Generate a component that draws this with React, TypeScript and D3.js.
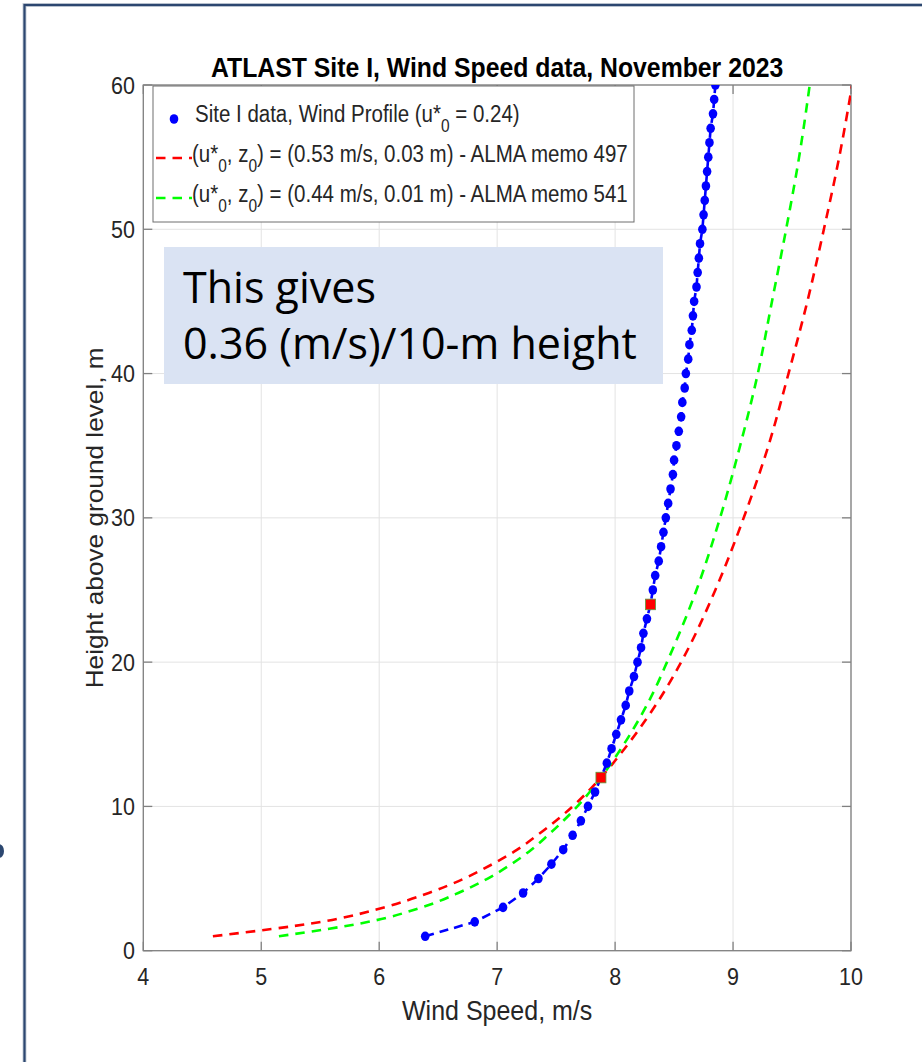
import React from 'react';
import * as d3 from 'd3';

// ---- data ----
const siteHeights = [1, 2, 3, 4, 5, 6, 7, 8, 9, 10, 11, 12, 13, 14, 15, 16, 17, 18, 19, 20,
  21, 22, 23, 24, 25, 26, 27, 28, 29, 30, 31, 32, 33, 34, 35, 36, 37, 38, 39, 40,
  41, 42, 43, 44, 45, 46, 47, 48, 49, 50, 51, 52, 53, 54, 55, 56, 57, 58, 59, 60];
const siteSpeeds = [6.39, 6.81, 7.05, 7.22, 7.35, 7.46, 7.56, 7.64, 7.71, 7.77, 7.83, 7.88, 7.93, 7.97, 8.01, 8.05, 8.09, 8.12, 8.16, 8.19,
  8.22, 8.24, 8.27, 8.30, 8.32, 8.34, 8.37, 8.39, 8.41, 8.43, 8.45, 8.47, 8.49, 8.50, 8.52, 8.54, 8.56, 8.57, 8.59, 8.60,
  8.62, 8.63, 8.65, 8.66, 8.67, 8.69, 8.70, 8.71, 8.72, 8.74, 8.75, 8.76, 8.77, 8.78, 8.79, 8.80, 8.81, 8.83, 8.84, 8.85];

const modelHeights = [1, 2, 3, 4, 5, 6, 7, 8, 10, 12, 14, 16, 18, 20, 25, 30, 35, 40, 45, 50, 55, 60];
const memo497Speeds = [4.59, 5.51, 6.04, 6.42, 6.72, 6.96, 7.17, 7.34, 7.64, 7.88, 8.08, 8.26, 8.42, 8.56, 8.85, 9.09, 9.30, 9.47, 9.63, 9.77, 9.90, 10.01];
const memo541Speeds = [5.15, 5.91, 6.36, 6.67, 6.92, 7.12, 7.29, 7.43, 7.68, 7.88, 8.05, 8.20, 8.33, 8.44, 8.69, 8.89, 9.06, 9.21, 9.33, 9.45, 9.56, 9.65];

const markHeights = [12, 24];
const markSpeeds = [7.88, 8.30];

const xTicks = [4, 5, 6, 7, 8, 9, 10];
const yTicks = [0, 10, 20, 30, 40, 50, 60];

const titleText = 'ATLAST Site I, Wind Speed data, November 2023';
const xLabel = 'Wind Speed, m/s';
const yLabel = 'Height above ground level, m';
const noteLines = ['This gives', '0.36 (m/s)/10-m height'];

// ---- layout ----
const W = 922, H = 1062;
const L = 143.3, R = 851, T = 85, B = 950.7;
const SY = 1.14;
const FONT = '"Liberation Sans", Arial, Helvetica, sans-serif';
const TXT = '#262626';
const AX = '#808080';

const x = d3.scaleLinear().domain([4, 10]).range([L, R]);
const y = d3.scaleLinear().domain([0, 60]).range([B, T]);

function ST(props: any) {
  const { x: tx, y: ty, children, rot, ...rest } = props;
  const tr = rot
    ? `translate(${tx},${ty}) rotate(-90) scale(${SY},1)`
    : `translate(${tx},${ty}) scale(1,${SY})`;
  return <text transform={tr} fontFamily={FONT} {...rest}>{children}</text>;
}

export default function App() {
  const sitePts = siteHeights.map((h, i) => [siteSpeeds[i], h] as [number, number]);
  const p497 = modelHeights.map((h, i) => [memo497Speeds[i], h] as [number, number]);
  const p541 = modelHeights.map((h, i) => [memo541Speeds[i], h] as [number, number]);
  const lineStraight = d3.line<[number, number]>().x(d => x(d[0])).y(d => y(d[1]));
  const lineSmooth = d3.line<[number, number]>().x(d => x(d[0])).y(d => y(d[1])).curve(d3.curveMonotoneY);
  const tickLen = 9;

  const legRowY = [119, 158, 198];
  const legBase = [122, 162, 202];
  const LF = 20.5, SF = 15.5, SD = 9;

  return (
    <svg width={W} height={H} style={{ position: 'absolute', left: 0, top: 0, background: '#fff' }}>
      <defs>
        <clipPath id="plotclip">
          <rect x={L} y={T} width={R - L} height={B - T} />
        </clipPath>
      </defs>
      {/* slide frame */}
      <rect x={24.5} y={5} width={W + 20} height={H + 20} fill="none" stroke="#c8cfd9" strokeWidth={4} />
      <rect x={24.5} y={5} width={W + 20} height={H + 20} fill="none" stroke="#2c4770" strokeWidth={2.2} />
      <ellipse cx={-1} cy={851} rx={5} ry={7} fill="#2c4770" />

      {/* grid */}
      {xTicks.map(t => (
        <line key={'gx' + t} x1={x(t)} x2={x(t)} y1={T} y2={B} stroke="#e3e3e3" strokeWidth={1} />
      ))}
      {yTicks.map(t => (
        <line key={'gy' + t} x1={L} x2={R} y1={y(t)} y2={y(t)} stroke="#e3e3e3" strokeWidth={1} />
      ))}

      {/* axes box */}
      <rect x={L} y={T} width={R - L} height={B - T} fill="none" stroke={AX} strokeWidth={1.3} />
      {xTicks.map(t => (
        <g key={'tx' + t}>
          <line x1={x(t)} x2={x(t)} y1={B} y2={B - tickLen} stroke={AX} strokeWidth={1.3} />
          <line x1={x(t)} x2={x(t)} y1={T} y2={T + tickLen} stroke={AX} strokeWidth={1.3} />
        </g>
      ))}
      {yTicks.map(t => (
        <g key={'ty' + t}>
          <line x1={L} x2={L + tickLen} y1={y(t)} y2={y(t)} stroke={AX} strokeWidth={1.3} />
          <line x1={R} x2={R - tickLen} y1={y(t)} y2={y(t)} stroke={AX} strokeWidth={1.3} />
        </g>
      ))}

      {/* tick labels */}
      {xTicks.map(t => (
        <ST key={'lx' + t} x={x(t)} y={985} fontSize={21.5} fill={TXT} textAnchor="middle">{t}</ST>
      ))}
      {yTicks.map(t => (
        <ST key={'ly' + t} x={135} y={y(t) + 8.5} fontSize={21.5} fill={TXT} textAnchor="end">{t}</ST>
      ))}

      {/* axis labels and title */}
      <ST x={(L + R) / 2} y={1020} fontSize={25} fill={TXT} textAnchor="middle">{xLabel}</ST>
      <ST x={103} y={(T + B) / 2} rot={true} fontSize={23} fill={TXT} textAnchor="middle">{yLabel}</ST>
      <ST x={(L + R) / 2} y={77} fontSize={24.8} fontWeight="bold" fill="#000" textAnchor="middle">{titleText}</ST>

      {/* series */}
      <g clipPath="url(#plotclip)">
        <path d={lineSmooth(p497) || ''} fill="none" stroke="#ff0000" strokeWidth={2.6} strokeDasharray="9.5,7" />
        <path d={lineSmooth(p541) || ''} fill="none" stroke="#00ff00" strokeWidth={2.6} strokeDasharray="9.5,7" />
        <path d={lineStraight(sitePts) || ''} fill="none" stroke="#0000ff" strokeWidth={2.6} strokeDasharray="9,6" />
        {sitePts.map((p, i) => (
          <ellipse key={'pt' + i} cx={x(p[0])} cy={y(p[1])} rx={4.3} ry={4.8} fill="#0000ff" />
        ))}
        {markHeights.map((h, i) => (
          <rect key={'mk' + i} x={x(markSpeeds[i]) - 5} y={y(h) - 5.3} width={10} height={10.6} fill="#ff0000" stroke="#5c9a3c" strokeWidth={0.8} />
        ))}
      </g>

      {/* legend */}
      <rect x={153} y={86} width={481} height={136} fill="#fff" stroke="#6e6e6e" strokeWidth={1} />
      <ellipse cx={174} cy={legRowY[0]} rx={4.3} ry={4.8} fill="#0000ff" />
      <line x1={156} x2={192} y1={legRowY[1]} y2={legRowY[1]} stroke="#ff0000" strokeWidth={2.6} strokeDasharray="9.5,7" />
      <line x1={156} x2={192} y1={legRowY[2]} y2={legRowY[2]} stroke="#00ff00" strokeWidth={2.6} strokeDasharray="9.5,7" />
      <ST x={195} y={legBase[0]} fontSize={LF} fill={TXT}>
        Site I data, Wind Profile (u*<tspan fontSize={SF} dy={SD}>0</tspan><tspan dy={-SD}> = 0.24)</tspan>
      </ST>
      <ST x={192} y={legBase[1]} fontSize={LF} fill={TXT}>
        (u*<tspan fontSize={SF} dy={SD}>0</tspan><tspan dy={-SD}>, z</tspan><tspan fontSize={SF} dy={SD}>0</tspan><tspan dy={-SD}>) = (0.53 m/s, 0.03 m) - ALMA memo 497</tspan>
      </ST>
      <ST x={192} y={legBase[2]} fontSize={LF} fill={TXT}>
        (u*<tspan fontSize={SF} dy={SD}>0</tspan><tspan dy={-SD}>, z</tspan><tspan fontSize={SF} dy={SD}>0</tspan><tspan dy={-SD}>) = (0.44 m/s, 0.01 m) - ALMA memo 541</tspan>
      </ST>

      {/* annotation box */}
      <rect x={164} y={247} width={499} height={137} fill="#dae3f3" />
      <text x={183} y={303} fontFamily='"Open Sans", "Noto Sans", sans-serif' fontSize={43} fill="#000">{noteLines[0]}</text>
      <text x={183} y={359} fontFamily='"Open Sans", "Noto Sans", sans-serif' fontSize={43} fill="#000">{noteLines[1]}</text>
    </svg>
  );
}
